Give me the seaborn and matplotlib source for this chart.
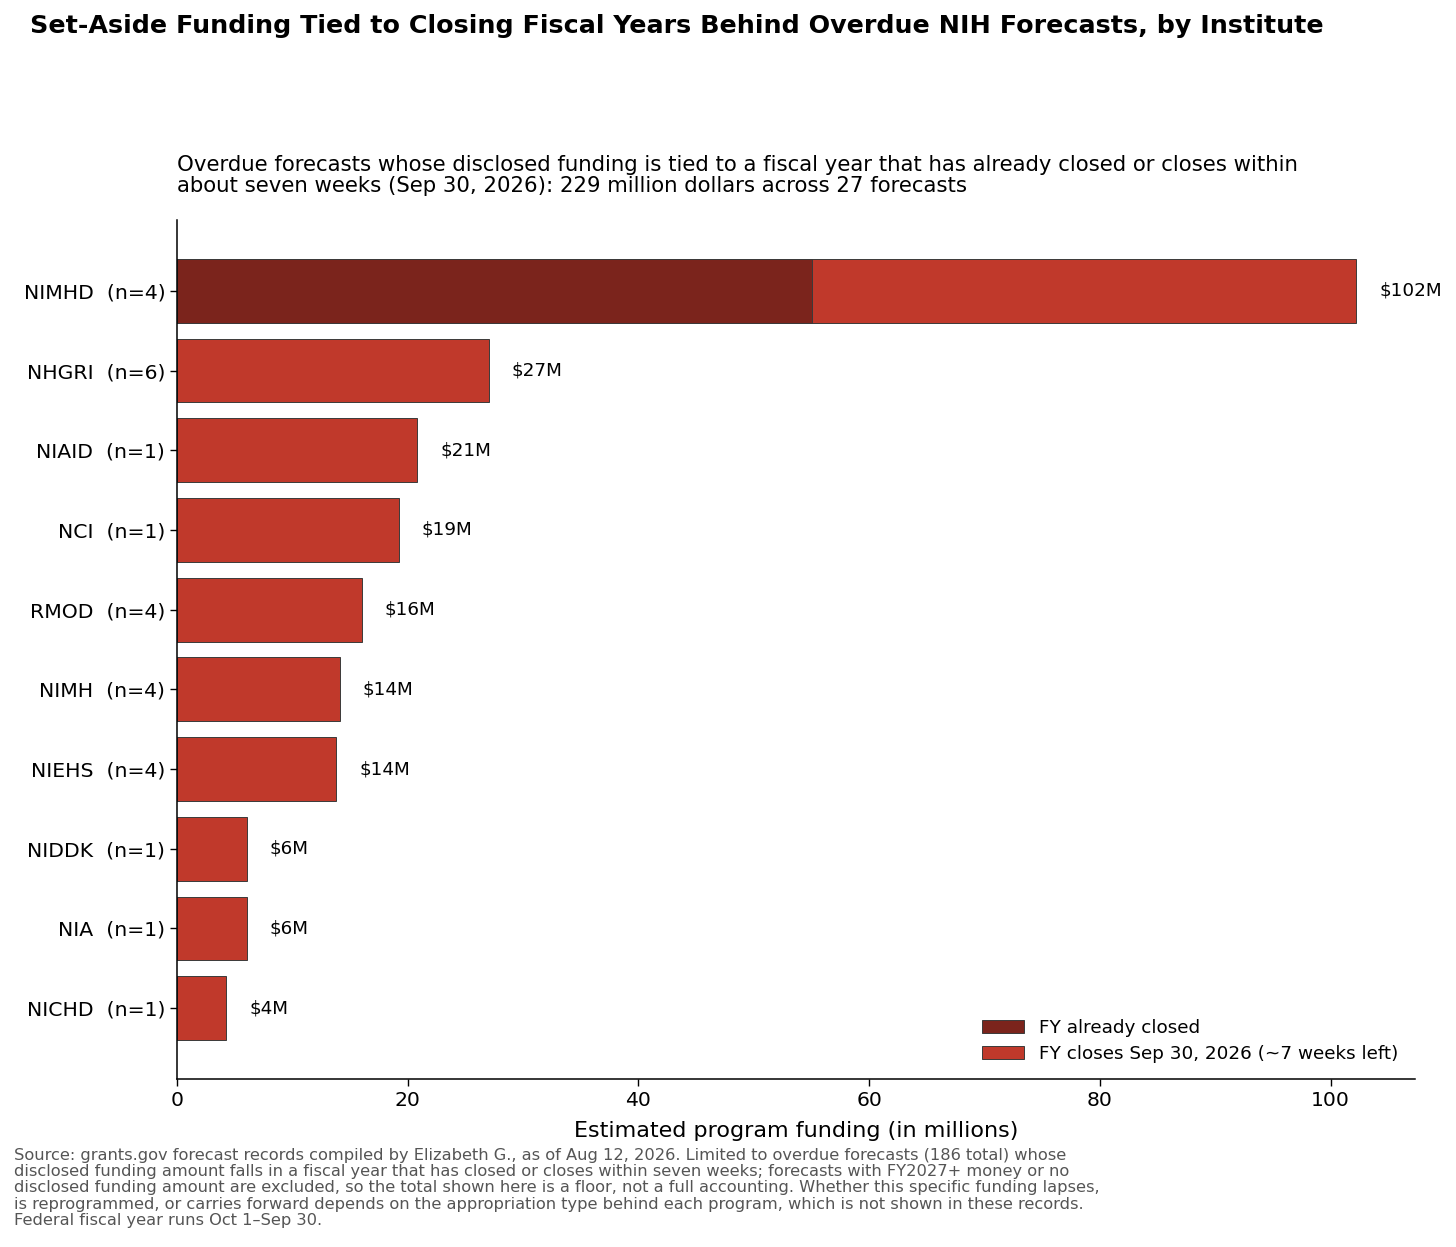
import pandas as pd
import seaborn as sns
import matplotlib.pyplot as plt
from matplotlib.patches import Patch

# values (millions of dollars)
institutes = ["NIMHD", "NHGRI", "NIAID", "NCI", "RMOD", "NIMH", "NIEHS", "NIDDK", "NIA", "NICHD"]
n_forecasts = [4, 6, 1, 1, 4, 4, 4, 1, 1, 1]
fy_closed = [55.0, 0, 0, 0, 0, 0, 0, 0, 0, 0]
fy_closing = [47.2, 27.0, 20.8, 19.2, 16.0, 14.1, 13.8, 6.05, 6.05, 4.25]
value_labels = ["$102M", "$27M", "$21M", "$19M", "$16M", "$14M", "$14M", "$6M", "$6M", "$4M"]

DARK = "#7B241C"
LIGHT = "#C0392B"
EDGE = "#3a3a3a"

labels = [f"{i}  (n={n})" for i, n in zip(institutes, n_forecasts)]
df = pd.DataFrame({
    "label": labels,
    "closed": fy_closed,
    "total": [a + b for a, b in zip(fy_closed, fy_closing)],
    "text": value_labels,
})

sns.set_style("white")
plt.rcParams["font.family"] = ["DejaVu Sans"]
plt.rcParams["text.color"] = "black"
plt.rcParams["axes.labelcolor"] = "black"
plt.rcParams["xtick.color"] = "black"
plt.rcParams["ytick.color"] = "black"

fig = plt.figure(figsize=(14.56, 12.47), dpi=100)
ax = fig.add_axes([0.1216, 0.1347, 0.8502, 0.6889])

# full bar (closing FY), then the already-closed part drawn over it
sns.barplot(data=df, y="label", x="total", order=labels, color=LIGHT,
            saturation=1, edgecolor=EDGE, linewidth=0.7, width=0.8, ax=ax)
sns.barplot(data=df[df["closed"] > 0], y="label", x="closed", order=labels,
            color=DARK, saturation=1, edgecolor=EDGE, linewidth=0.7,
            width=0.8, ax=ax)

for i, row in df.iterrows():
    ax.text(row["total"] + 2, i, row["text"], va="center", ha="left", fontsize=13.2)

ax.set_ylim(len(labels) - 0.5 + 0.39, -0.5 - 0.39)
ax.set_xticks([0, 20, 40, 60, 80, 100])
ax.set_ylabel("")
ax.set_xlabel("Estimated program funding (in millions)", fontsize=16, labelpad=8)
ax.tick_params(axis="both", labelsize=14.7, length=5, width=1, color="black", left=True, bottom=True)
sns.despine(ax=ax)
for s in ["left", "bottom"]:
    ax.spines[s].set_color("black")
    ax.spines[s].set_linewidth(1.1)

handles = [Patch(facecolor=DARK, edgecolor=EDGE, linewidth=0.7, label="FY already closed"),
           Patch(facecolor=LIGHT, edgecolor=EDGE, linewidth=0.7, label="FY closes Sep 30, 2026 (~7 weeks left)")]
ax.legend(handles=handles, loc="lower right", frameon=False, fontsize=13.2,
          bbox_to_anchor=(1.0, 0.0), labelspacing=0.4, handlelength=2.3)

ax.set_title("Overdue forecasts whose disclosed funding is tied to a fiscal year that has already closed or closes within\n"
             "about seven weeks (Sep 30, 2026): 229 million dollars across 27 forecasts",
             loc="left", fontsize=15.3, pad=20, linespacing=1.07)

fig.text(30 / 1456, 1 - 14 / 1247,
         "Set-Aside Funding Tied to Closing Fiscal Years Behind Overdue NIH Forecasts, by Institute",
         fontsize=18.3, fontweight="bold", ha="left", va="top")

fig.text(14 / 1456, 1 - 1148 / 1247,
         "Source: grants.gov forecast records compiled by Elizabeth G., as of Aug 12, 2026. Limited to overdue forecasts (186 total) whose\n"
         "disclosed funding amount falls in a fiscal year that has closed or closes within seven weeks; forecasts with FY2027+ money or no\n"
         "disclosed funding amount are excluded, so the total shown here is a floor, not a full accounting. Whether this specific funding lapses,\n"
         "is reprogrammed, or carries forward depends on the appropriation type behind each program, which is not shown in these records.\n"
         "Federal fiscal year runs Oct 1\u2013Sep 30.",
         fontsize=11.7, color="#555555", ha="left", va="top", linespacing=1.1)

fig.savefig("out.png", dpi=100)
